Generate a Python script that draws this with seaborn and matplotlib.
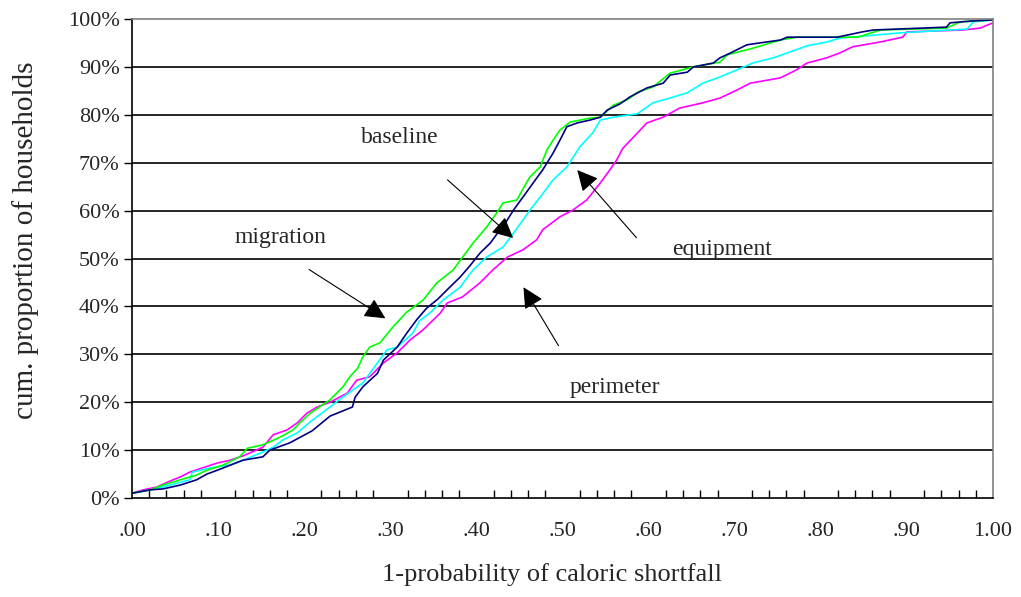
import pandas as pd
import numpy as np
import matplotlib
matplotlib.use("Agg")
import matplotlib.pyplot as plt
from matplotlib.ticker import MultipleLocator, FuncFormatter
import seaborn as sns

# Data (x = 1-probability, y = cumulative % of households)
baseline_x = [0.0, 0.021, 0.036, 0.056, 0.075, 0.087, 0.099, 0.129, 0.152, 0.16, 0.183, 0.209,
              0.23, 0.256, 0.259, 0.268, 0.285, 0.292, 0.308, 0.319, 0.331, 0.342, 0.355, 0.369,
              0.381, 0.393, 0.404, 0.416, 0.427, 0.435, 0.443, 0.454, 0.466, 0.477, 0.489, 0.497,
              0.505, 0.517, 0.532, 0.544, 0.552, 0.567, 0.578, 0.598, 0.617, 0.625, 0.645, 0.652,
              0.675, 0.683, 0.695, 0.714, 0.729, 0.753, 0.761, 0.819, 0.848, 0.861, 0.946, 0.95,
              0.977, 1.0]
baseline_y = [1.0, 1.7, 1.9, 2.7, 3.8, 5.0, 5.8, 7.9, 8.6, 10.0, 11.5, 14.0,
              17.1, 19.0, 21.0, 23.2, 26.0, 28.8, 31.5, 34.4, 37.3, 39.6, 41.5, 44.0,
              46.1, 48.6, 51.1, 53.2, 55.9, 57.8, 60.1, 62.8, 65.8, 68.5, 72.0, 74.7,
              77.5, 78.3, 78.9, 79.5, 81.0, 82.3, 83.7, 85.6, 86.6, 88.3, 88.9, 90.0,
              90.8, 91.9, 92.9, 94.6, 95.0, 95.6, 96.2, 96.2, 97.3, 97.7, 98.3, 99.2,
              99.6, 99.8]

migration_x = [0.0, 0.021, 0.036, 0.056, 0.075, 0.087, 0.106, 0.125, 0.134, 0.152, 0.172, 0.187,
               0.195, 0.207, 0.23, 0.245, 0.253, 0.262, 0.268, 0.276, 0.288, 0.303, 0.319, 0.338,
               0.354, 0.373, 0.384, 0.396, 0.412, 0.424, 0.431, 0.447, 0.454, 0.462, 0.474, 0.482,
               0.489, 0.497, 0.509, 0.532, 0.544, 0.559, 0.575, 0.588, 0.605, 0.625, 0.652, 0.683,
               0.691, 0.721, 0.753, 0.772, 0.843, 0.869, 0.946, 0.962, 1.0]
migration_y = [1.0, 1.7, 2.7, 3.8, 4.8, 5.8, 6.9, 8.6, 10.4, 11.1, 12.7, 14.2,
               15.7, 17.7, 20.5, 23.2, 25.3, 27.1, 29.4, 31.5, 32.4, 35.7, 38.8, 41.3,
               44.9, 47.6, 50.3, 53.2, 56.6, 59.6, 61.6, 62.2, 64.5, 67.0, 69.1, 72.7,
               74.7, 76.8, 78.5, 79.3, 79.5, 82.0, 83.1, 84.8, 85.8, 88.7, 90.0, 91.0,
               92.5, 93.9, 95.6, 96.2, 96.2, 97.7, 98.1, 99.4, 99.8]

equipment_x = [0.0, 0.021, 0.036, 0.067, 0.07, 0.091, 0.114, 0.129, 0.152, 0.164, 0.175, 0.192,
               0.207, 0.23, 0.245, 0.268, 0.285, 0.296, 0.308, 0.326, 0.334, 0.346, 0.361, 0.381,
               0.396, 0.412, 0.431, 0.443, 0.454, 0.462, 0.474, 0.489, 0.505, 0.52, 0.535, 0.544,
               0.559, 0.587, 0.605, 0.625, 0.645, 0.663, 0.683, 0.703, 0.721, 0.745, 0.764, 0.784,
               0.807, 0.822, 0.892, 0.97, 0.977, 1.0]
equipment_y = [1.0, 1.7, 2.3, 3.8, 5.4, 6.3, 6.9, 7.9, 9.6, 10.6, 12.1, 13.6,
               15.9, 19.0, 21.1, 24.0, 28.2, 30.9, 31.5, 34.4, 37.0, 38.6, 41.3, 44.0,
               47.6, 50.3, 52.4, 55.3, 58.0, 60.1, 62.8, 66.4, 69.1, 73.3, 76.2, 78.9,
               79.5, 80.2, 82.5, 83.5, 84.6, 86.6, 87.9, 89.4, 90.8, 91.9, 93.1, 94.4,
               95.2, 96.0, 97.1, 97.9, 99.4, 99.8]

perimeter_x = [0.0, 0.013, 0.029, 0.041, 0.056, 0.067, 0.082, 0.099, 0.114, 0.129, 0.152, 0.164,
               0.18, 0.192, 0.203, 0.215, 0.23, 0.25, 0.261, 0.276, 0.292, 0.308, 0.323, 0.338,
               0.35, 0.358, 0.366, 0.384, 0.404, 0.419, 0.436, 0.454, 0.47, 0.477, 0.497, 0.512,
               0.528, 0.544, 0.555, 0.563, 0.57, 0.587, 0.598, 0.617, 0.636, 0.663, 0.683, 0.703,
               0.718, 0.753, 0.772, 0.784, 0.807, 0.822, 0.837, 0.869, 0.895, 0.9, 0.965, 0.985,
               1.0]
perimeter_y = [1.0, 1.7, 2.3, 3.3, 4.4, 5.4, 6.3, 7.3, 7.9, 8.8, 10.6, 13.2,
               14.2, 15.7, 17.7, 19.0, 20.0, 21.9, 24.6, 25.3, 28.2, 30.3, 33.0, 35.1,
               37.2, 38.6, 40.7, 42.0, 44.9, 47.6, 50.3, 51.8, 53.9, 56.0, 58.7, 60.1,
               62.2, 65.8, 68.5, 70.6, 73.0, 76.2, 78.3, 79.5, 81.4, 82.5, 83.5, 85.2,
               86.6, 87.7, 89.4, 90.8, 91.9, 92.9, 94.2, 95.2, 96.2, 97.3, 97.7, 98.1,
               99.2]

scenarios = ["perimeter", "equipment", "migration", "baseline"]
colors = {"baseline": "#000080", "migration": "#00FF00",
          "equipment": "#00FFFF", "perimeter": "#FF00FF"}

frames = [
    pd.DataFrame({"x": baseline_x, "y": baseline_y, "scenario": "baseline"}),
    pd.DataFrame({"x": migration_x, "y": migration_y, "scenario": "migration"}),
    pd.DataFrame({"x": equipment_x, "y": equipment_y, "scenario": "equipment"}),
    pd.DataFrame({"x": perimeter_x, "y": perimeter_y, "scenario": "perimeter"}),
]
df = pd.concat(frames, ignore_index=True)

# Style
sns.set_theme(style="white")
plt.rcParams["font.family"] = ["Liberation Serif", "DejaVu Serif"]

fig = plt.figure(figsize=(10.21, 5.97), dpi=100)
ax = fig.add_axes([0.1293, 0.1658, 0.8433, 0.8024])

for name in scenarios:
    sns.lineplot(
        data=df[df["scenario"] == name],
        x="x",
        y="y",
        color=colors[name],
        estimator=None,
        linewidth=1.2,
        ax=ax,
        legend=False
    )

ax.set_xlim(0, 1)
ax.set_ylim(0, 100)

# gridlines
for v in range(10, 100, 10):
    ax.axhline(v, color="black", linewidth=1.2, zorder=0)

ax.xaxis.set_major_locator(MultipleLocator(0.1))
ax.xaxis.set_minor_locator(MultipleLocator(0.02))
ax.yaxis.set_major_locator(MultipleLocator(10))
ax.xaxis.set_major_formatter(FuncFormatter(lambda v, p: f"{v:.2f}".lstrip("0") if v < 0.995 else "1.00"))
ax.yaxis.set_major_formatter(FuncFormatter(lambda v, p: f"{v:.0f}%"))

ax.tick_params(axis="x", which="major", direction="inout", length=14, width=1,
               color="black", pad=10, labelsize=16)
ax.tick_params(axis="x", which="minor", direction="in", length=6, width=1,
               color="black", bottom=True)
ax.tick_params(axis="y", which="major", direction="out", length=6, width=1,
               color="black", pad=3, labelsize=16, left=True)

for s in ["left", "bottom"]:
    ax.spines[s].set_color("black")
    ax.spines[s].set_linewidth(1.2)
for s in ["top", "right"]:
    ax.spines[s].set_color("#808080")
    ax.spines[s].set_linewidth(1.2)

ax.set_xlabel("1-probability of caloric shortfall", fontsize=19, labelpad=20)
ax.set_ylabel("cum. proportion of households", fontsize=21)
ax.yaxis.set_label_coords(-0.108, 0.538)
ax.xaxis.set_label_coords(0.488, -0.135)

arrow = dict(arrowstyle="-|>", color="black", lw=0.8, mutation_scale=32)
ax.annotate("baseline", xy=(0.445, 53.9), xytext=(0.311, 75.2), fontsize=17,
            ha="center", va="center")
ax.annotate("", xy=(0.445, 53.9), xytext=(0.364, 66.8), arrowprops=arrow)
ax.annotate("migration", xy=(0.297, 37.2), xytext=(0.172, 54.3), fontsize=17,
            ha="center", va="center")
ax.annotate("", xy=(0.297, 37.2), xytext=(0.203, 48.0), arrowprops=arrow)
ax.annotate("equipment", xy=(0.515, 68.9), xytext=(0.685, 51.8), fontsize=17,
            ha="center", va="center")
ax.annotate("", xy=(0.515, 68.9), xytext=(0.588, 53.9), arrowprops=arrow)
ax.annotate("perimeter", xy=(0.453, 44.5), xytext=(0.561, 23.0), fontsize=17,
            ha="center", va="center")
ax.annotate("", xy=(0.453, 44.5), xytext=(0.497, 31.3), arrowprops=arrow)

fig.savefig("out.png", dpi=100)
